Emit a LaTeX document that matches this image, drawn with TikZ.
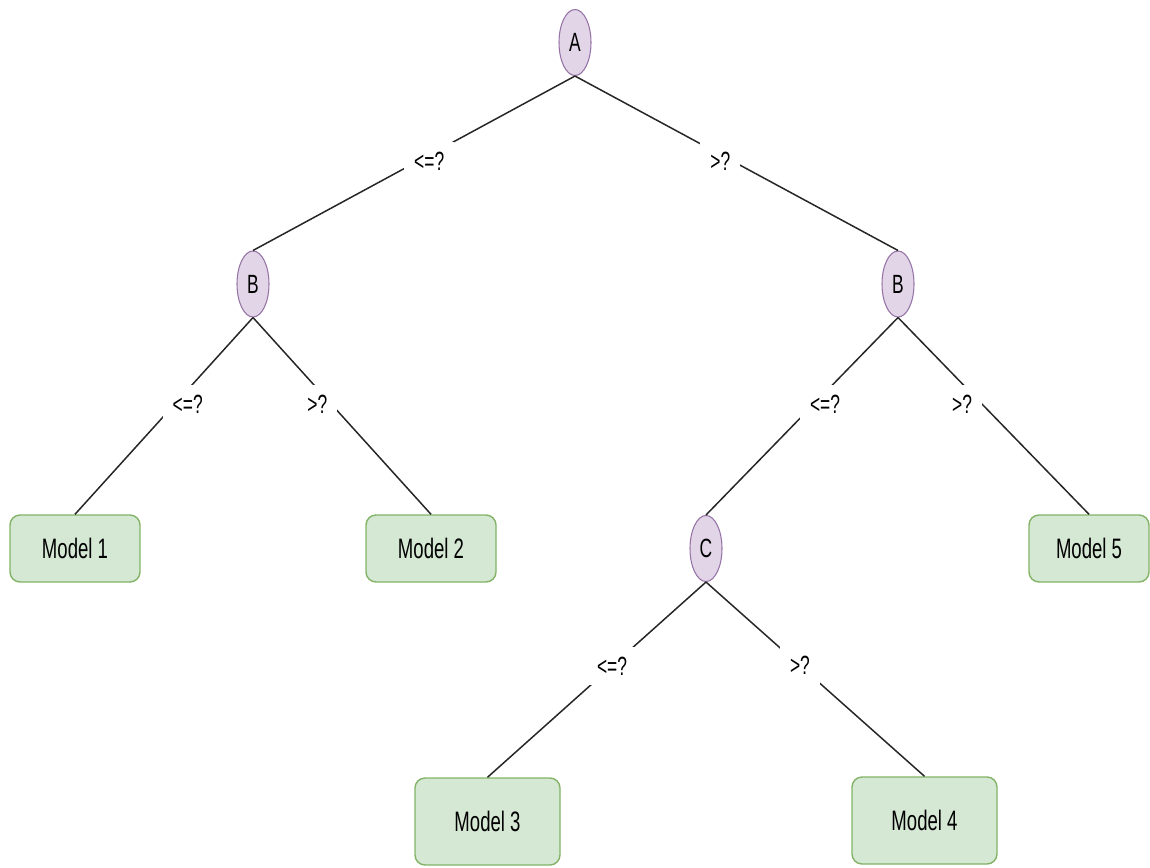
\documentclass[tikz,border=0pt]{standalone}
\usepackage{fontspec}
\setmainfont[FakeStretch=0.66]{Liberation Sans}
\usetikzlibrary{shapes.geometric}

\definecolor{splitfill}{HTML}{E1D5E7}
\definecolor{splitline}{HTML}{9673A6}
\definecolor{leaffill}{HTML}{D5E8D4}
\definecolor{leafline}{HTML}{82B366}

\begin{document}
\begin{tikzpicture}[
	    split/.style={ellipse, draw=splitline, fill=splitfill, line width=0.6pt, inner sep=0pt, minimum width=0.64cm, minimum height=1.32cm, font=\fontsize{15}{18}\selectfont},
	    leaf/.style={rectangle, rounded corners=0.2cm, draw=leafline, fill=leaffill, line width=0.8pt, minimum width=2.6cm, minimum height=1.34cm, font=\fontsize{16}{19}\selectfont},
	    cond/.style={fill=white, inner sep=0.2cm, font=\fontsize{15}{18}\selectfont},
	    edge/.style={draw=black!85, line width=0.85pt}
	]
	    \useasboundingbox (0,0) rectangle (23,-17.34);
	    
	    \node [split] (A) at (11.5,-0.85) {A};
	    \node [split] (B1) at (5.06,-5.68) {B};
		\node [split] (B2) at (17.96,-5.68) {B};
	    \node [split] (C) at (14.12,-10.97) {C};
	    
	    \node [leaf] (M1) at (1.5,-10.97) {Model 1};
	    \node [leaf] (M2) at (8.62,-10.97) {Model 2};
		\node [leaf, minimum width=2.4cm] (M5) at (21.78,-10.97) {Model 5};
	    \node [leaf, minimum width=2.9cm, minimum height=1.74cm] (M3) at (9.75,-16.43) {Model 3};
	    \node [leaf, minimum width=2.9cm, minimum height=1.74cm] (M4) at (18.49,-16.41) {Model 4};
	    
	    \draw [edge] (A.south) -- node [cond, pos=0.49, xshift=0.24cm] {<=?} (B1.north);
	    \draw [edge] (A.south) -- node [cond, pos=0.49, xshift=-0.26cm] {>?} (B2.north);
	    \draw [edge] (B1.south) -- node [cond, pos=0.44, xshift=0.26cm] {<=?} (M1.north);
	    \draw [edge] (B1.south) -- node [cond, pos=0.44, xshift=-0.28cm] {>?} (M2.north);
	    \draw [edge] (B2.south) -- node [cond, pos=0.44, xshift=0.23cm] {<=?} (C.north);
		\draw [edge] (B2.south) -- node [cond, pos=0.44, xshift=-0.4cm] {>?} (M5.north);
	    \draw [edge] (C.south) -- node [cond, pos=0.43] {<=?} (M3.north);
	    \draw [edge] (C.south) -- node [cond, pos=0.43] {>?} (M4.north);
\end{tikzpicture}
\end{document}
